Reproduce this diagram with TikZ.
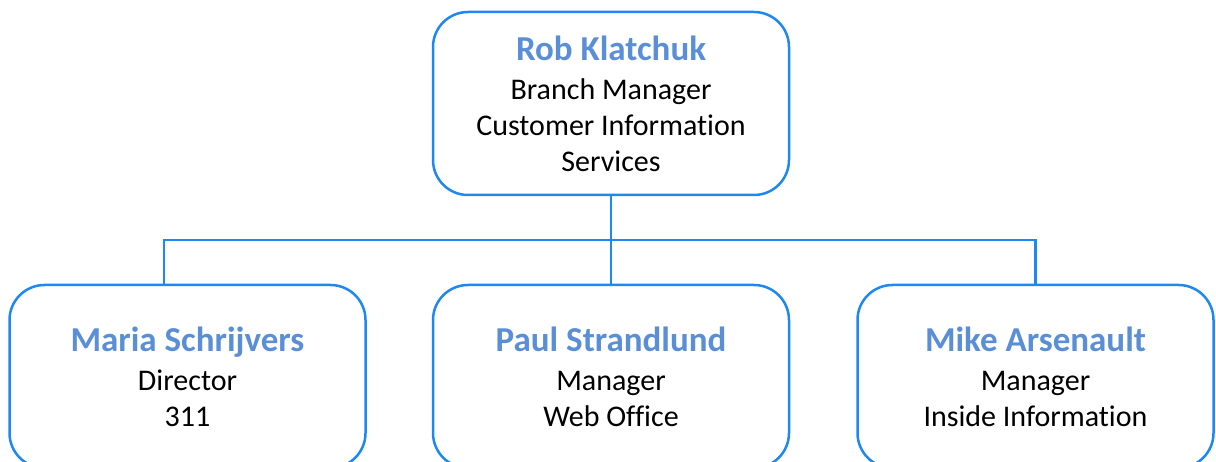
\documentclass[tikz,border=0pt]{standalone}
\usepackage{fontspec}
\setmainfont{Carlito}[Ligatures=NoCommon]
\usetikzlibrary{positioning,calc}
\definecolor{boxblue}{HTML}{1E88F0}
\definecolor{nameblue}{HTML}{5A8FD8}
\newcommand{\pname}[1]{{\fontsize{35}{36}\selectfont\bfseries\color{nameblue}#1}}

\begin{document}
\begin{tikzpicture}[x=1pt, y=-1pt,
    every node/.style={font=\fontsize{30}{36}\selectfont},
    person/.style={draw=boxblue, line width=2.5pt, rounded corners=35pt,
        minimum width=356pt, minimum height=183pt, inner sep=0pt, align=center},
    link/.style={draw=boxblue, line width=2.2pt}] % 1pt = 1px of the original
                \useasboundingbox (0,0) rectangle (1216,462);

                % Branch manager on top
                \node[person] (rob) at (611,103.5) {\pname{Rob Klatchuk}\\[3pt]Branch Manager\\Customer Information\\Services};

                % Direct reports
                \node[person] (maria) at (187.5,376.5) {\pname{Maria Schrijvers}\\[3pt]Director\\311};
                \node[person] (paul) at (611,376.5) {\pname{Paul Strandlund}\\[3pt]Manager\\Web Office};
                \node[person] (mike) at (1035.5,376.5) {\pname{Mike Arsenault}\\[3pt]Manager\\Inside Information};

                % Connectors
                \coordinate (bus) at (611,240);
                \coordinate (mariatop) at ($(maria.north)+(-23.5,0)$);
                \draw[link] (rob.south) -- (paul.north);
                \draw[link] (mariatop) -- (mariatop |- bus) -- (mike.north |- bus) -- (mike.north);

            \end{tikzpicture}
\end{document}
